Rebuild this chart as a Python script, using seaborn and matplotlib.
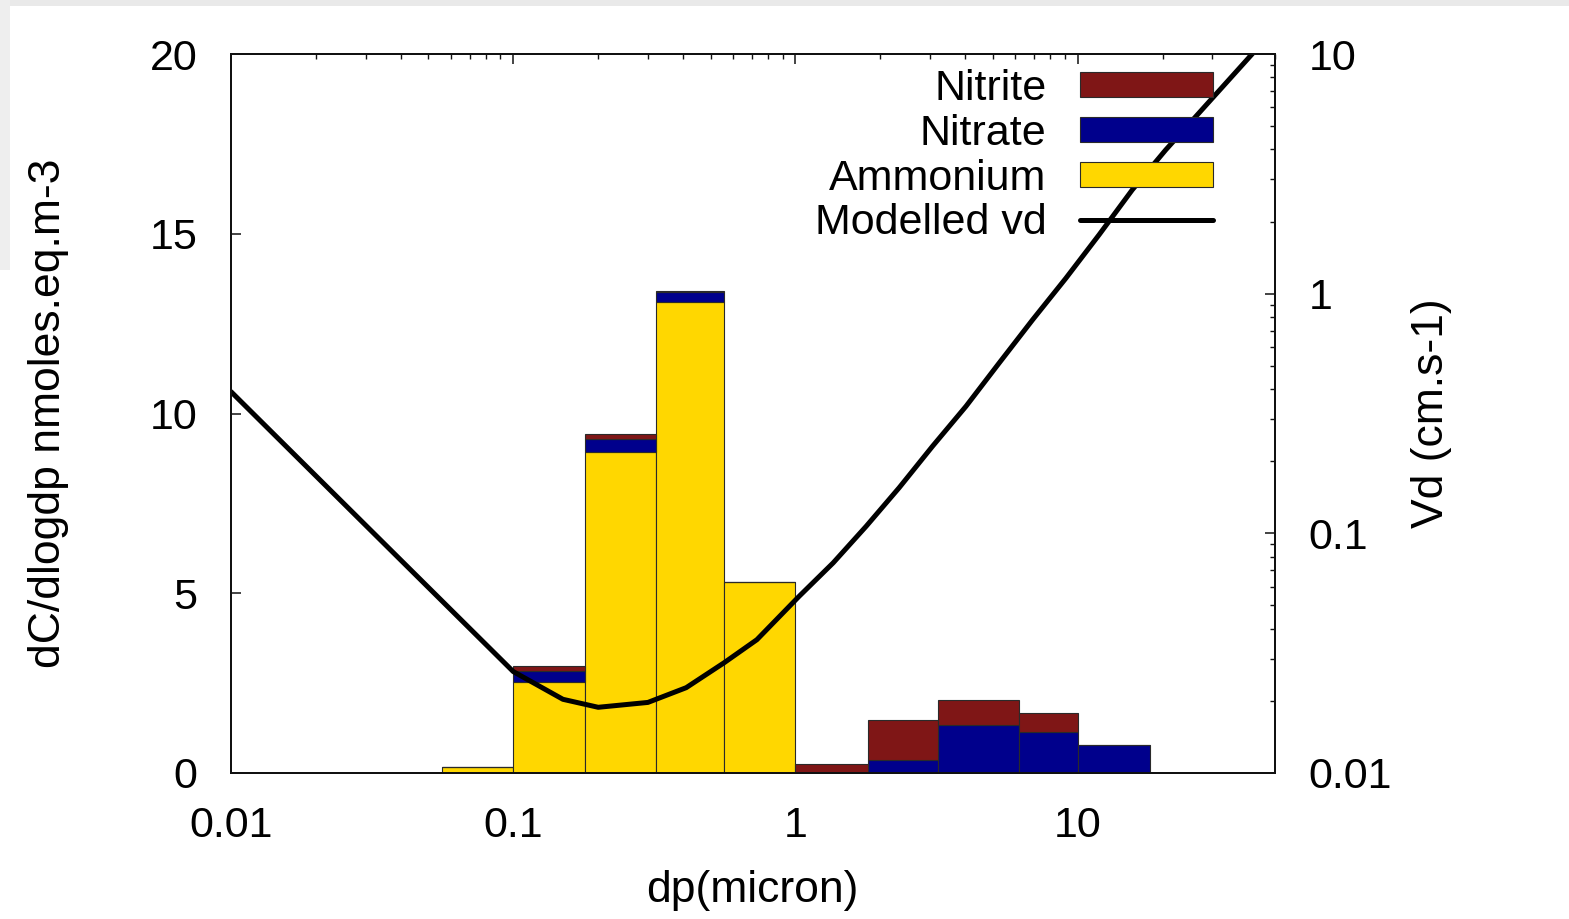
import numpy as np
import pandas as pd
import matplotlib
matplotlib.use("Agg")
import matplotlib.pyplot as plt
from matplotlib.patches import Patch, Rectangle
from matplotlib.lines import Line2D
from matplotlib.ticker import FixedLocator, FixedFormatter, LogLocator, NullFormatter
import seaborn as sns

# ---- data ----
bin_edges = [0.056, 0.1, 0.18, 0.32, 0.56, 1.0, 1.8, 3.2, 6.2, 10.0, 18.0]
ammonium = [0.18, 2.53, 8.92, 13.10, 5.30, 0.0, 0.0, 0.0, 0.0, 0.0]
nitrate = [0.0, 0.32, 0.38, 0.29, 0.0, 0.0, 0.35, 1.33, 1.15, 0.77]
nitrite = [0.0, 0.12, 0.12, 0.02, 0.0, 0.24, 1.13, 0.70, 0.51, 0.0]

dp_model = [0.01, 0.031, 0.1, 0.15, 0.2, 0.3, 0.41, 0.56, 0.73, 1.03, 1.36,
            1.78, 2.33, 3.06, 4.02, 5.27, 6.92, 9.08, 11.9, 15.6, 20.5, 41.5, 50.0]
vd_model = [0.39, 0.104, 0.0265, 0.0203, 0.0188, 0.0197, 0.0227, 0.0289,
            0.036, 0.0546, 0.0753, 0.107, 0.155, 0.231, 0.339, 0.514, 0.778,
            1.16, 1.76, 2.71, 3.98, 10.0, 13.0]

species = ["Nitrite", "Nitrate", "Ammonium"]
colors = {"Nitrite": "#7f1616", "Nitrate": "#00008c", "Ammonium": "#ffd700"}
x_ticks = [0.01, 0.1, 1, 10]
x_ticklabels = ["0.01", "0.1", "1", "10"]
y_ticks = [0, 5, 10, 15, 20]
y2_ticks = [0.01, 0.1, 1, 10]
y2_ticklabels = ["0.01", "0.1", "1", "10"]

# ---- build long table ----
edges = np.array(bin_edges)
centers = np.sqrt(edges[:-1] * edges[1:])
rows = []
for name, vals in zip(species, [nitrite, nitrate, ammonium]):
    for c, v in zip(centers, vals):
        rows.append({"dp": c, "value": v, "species": name})
df = pd.DataFrame(rows)

sns.set_style("white")
plt.rcParams["font.family"] = ["Liberation Sans", "DejaVu Sans"]
plt.rcParams["text.color"] = "black"
plt.rcParams["axes.labelcolor"] = "black"
plt.rcParams["xtick.color"] = "black"
plt.rcParams["ytick.color"] = "black"

fig = plt.figure(figsize=(15.69, 9.19), dpi=100)
# faint grey frame remnants of the original screenshot
fig.patches.append(Rectangle((0, 1 - 6 / 919), 1, 6 / 919, transform=fig.transFigure,
                             facecolor="#e9e9e9", edgecolor="none", zorder=0))
fig.patches.append(Rectangle((0, 1 - 270 / 919), 10 / 1569, 270 / 919,
                             transform=fig.transFigure, facecolor="#eeeeee",
                             edgecolor="none", zorder=0))

ax = fig.add_axes([231 / 1569, 1 - 773 / 919, (1275 - 231) / 1569, (773 - 54) / 919])

sns.histplot(data=df, x="dp", weights="value", hue="species",
             hue_order=species, palette=colors, bins=[float(b) for b in np.log10(edges)],
             log_scale=(True, False), multiple="stack", stat="count",
             element="bars", alpha=1, edgecolor="#2a2a2a", linewidth=0.8,
             legend=False, ax=ax)

ax.set_xscale("log")
ax.set_xlim(0.01, 50)
ax.set_ylim(0, 20)
ax.xaxis.set_major_locator(FixedLocator(x_ticks))
ax.xaxis.set_major_formatter(FixedFormatter(x_ticklabels))
ax.xaxis.set_minor_locator(LogLocator(base=10, subs=np.arange(2, 10)))
ax.xaxis.set_minor_formatter(NullFormatter())
ax.yaxis.set_major_locator(FixedLocator(y_ticks))
ax.set_yticklabels([str(t) for t in y_ticks])

fs = 31
ax.tick_params(axis="both", which="major", direction="in", length=7, width=1.1,
               labelsize=fs, pad=24, top=True, right=False, color="#111111",
               labelcolor="black")
ax.tick_params(axis="x", which="minor", direction="in", length=3.5, width=1.0,
               top=True, color="#111111")

ax2 = ax.twinx()
sns.lineplot(x=dp_model, y=vd_model, ax=ax2, color="black", linewidth=3.6,
             sort=False)
ax2.set_yscale("log")
ax2.set_ylim(0.01, 10)
ax2.set_xlim(0.01, 50)
ax2.yaxis.set_major_locator(FixedLocator(y2_ticks))
ax2.yaxis.set_major_formatter(FixedFormatter(y2_ticklabels))
ax2.yaxis.set_minor_locator(LogLocator(base=10, subs=np.arange(2, 10)))
ax2.yaxis.set_minor_formatter(NullFormatter())
ax2.tick_params(axis="y", which="major", direction="in", length=7, width=1.1,
                labelsize=fs, pad=24, color="#111111", labelcolor="black")
ax2.tick_params(axis="y", which="minor", direction="in", length=3.5, width=1.0,
                color="#111111")

for a in (ax, ax2):
    for s in a.spines.values():
        s.set_visible(True)
        s.set_color("#111111")
        s.set_linewidth(1.4)

ax.set_xlabel("dp(micron)", fontsize=32, va="center", ha="center", color="black")
ax.xaxis.set_label_coords(0.499, -0.163)
ax.set_ylabel("dC/dlogdp nmoles.eq.m-3", fontsize=32, va="center", ha="center",
              color="black")
ax.yaxis.set_label_coords(-0.175, 0.5)
ax2.set_ylabel("Vd (cm.s-1)", fontsize=32, va="center", ha="center", rotation=90,
               color="black")
ax2.yaxis.set_label_coords(1.150, 0.5)

handles = [Patch(facecolor=colors["Nitrite"], edgecolor="#2a2a2a", linewidth=0.8),
           Patch(facecolor=colors["Nitrate"], edgecolor="#2a2a2a", linewidth=0.8),
           Patch(facecolor=colors["Ammonium"], edgecolor="#2a2a2a", linewidth=0.8),
           Line2D([], [], color="black", linewidth=3.6)]
labels = ["Nitrite", "Nitrate", "Ammonium", "Modelled vd"]
leg = ax2.legend(handles, labels, loc="upper right", bbox_to_anchor=(0.9406, 0.979),
                 frameon=False, markerfirst=False, fontsize=fs, borderpad=0,
                 handlelength=3.1, handleheight=0.51, handletextpad=0.77,
                 labelspacing=0.11, borderaxespad=0)
for t in leg.get_texts():
    t.set_color("black")

fig.savefig("out.png", dpi=100)
